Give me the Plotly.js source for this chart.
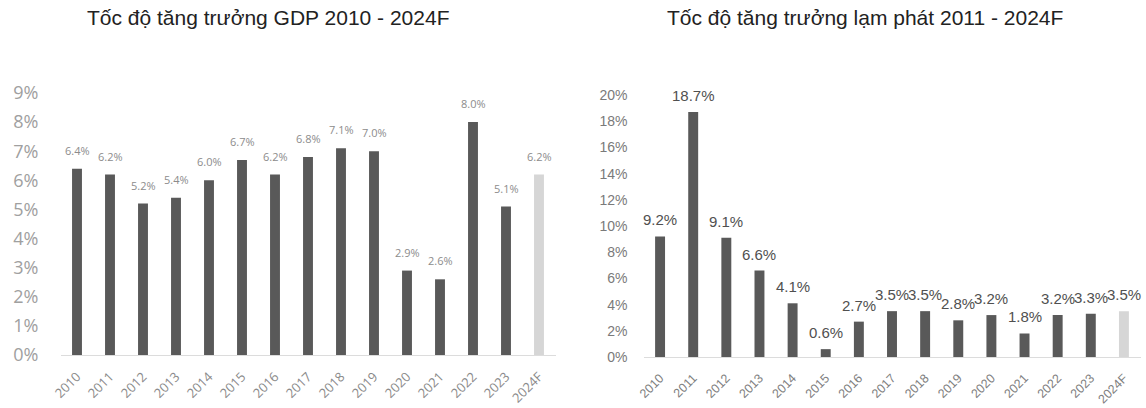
<!DOCTYPE html>
<html>
<head>
<meta charset="utf-8">
<script src="https://cdn.plot.ly/plotly-3.0.1.min.js"></script>
<style>html,body{margin:0;padding:0;background:#fff}#chart{width:1146px;height:408px}</style>
</head>
<body>
<div id="chart"></div>
<script>
const years = ['2010','2011','2012','2013','2014','2015','2016','2017','2018','2019','2020','2021','2022','2023','2024F'];
const gdpGrowth = [6.4, 6.2, 5.2, 5.4, 6.0, 6.7, 6.2, 6.8, 7.1, 7.0, 2.9, 2.6, 8.0, 5.1, 6.2];
const inflation = [9.2, 18.7, 9.1, 6.6, 4.1, 0.6, 2.7, 3.5, 3.5, 2.8, 3.2, 1.8, 3.2, 3.3, 3.5];
const gdpTitle = 'Tốc độ tăng trưởng GDP 2010 - 2024F';
const inflTitle = 'Tốc độ tăng trưởng lạm phát 2011 - 2024F';

const W = 1146, H = 408;
const dark = '#595959', light = '#d6d6d6';
const colorsFor = arr => arr.map((v, i) => i === arr.length - 1 ? light : dark);

const traces = [
  {
    type: 'bar', x: years, y: gdpGrowth, xaxis: 'x', yaxis: 'y',
    marker: {color: colorsFor(gdpGrowth)},
    hoverinfo: 'skip'
  },
  {
    type: 'bar', x: years, y: inflation, xaxis: 'x2', yaxis: 'y2',
    marker: {color: colorsFor(inflation)},
    hoverinfo: 'skip'
  }
];

// on a category axis an annotation x is the category's index
const labelsFor = (vals, xref, yref, font, shift) => vals.map((v, i) => ({
  x: i, y: v, xref: xref, yref: yref,
  text: v.toFixed(1) + '%', showarrow: false,
  xanchor: 'center', yanchor: 'bottom', yshift: shift,
  font: font
}));

const gdpFont = {family: 'Open Sans, sans-serif', size: 11, color: '#8c8c8c'};
const inflFont = {family: 'Liberation Sans, Arial, sans-serif', size: 15, color: '#505050'};
const titleFont = {family: 'Liberation Sans, Arial, sans-serif', size: 21, color: '#222'};

const layout = {
  width: W, height: H,
  margin: {l: 0, r: 0, t: 0, b: 0},
  paper_bgcolor: '#fff', plot_bgcolor: '#fff',
  showlegend: false,
  bargap: 0.7,
  xaxis: {
    type: 'category', tickmode: 'array', tickvals: years,
    range: [-0.5, years.length - 0.5],
    domain: [60.5 / W, 555.5 / W], anchor: 'y',
    tickangle: -45, showgrid: false, zeroline: false,
    showline: true, linecolor: '#dcdcdc', linewidth: 1,
    ticklabelstandoff: 8,
    tickfont: {family: 'Open Sans, sans-serif', size: 13, color: '#8a8a8a'},
    automargin: false, fixedrange: true
  },
  yaxis: {
    domain: [53 / H, 315 / H], anchor: 'x',
    range: [0, 9], dtick: 1, ticksuffix: '%',
    showgrid: false, zeroline: false, showline: false,
    tickfont: {family: 'Open Sans, sans-serif', size: 18, color: '#a0a0a0'},
    ticklabelstandoff: 21,
    automargin: false, fixedrange: true
  },
  xaxis2: {
    type: 'category', tickmode: 'array', tickvals: years,
    range: [-0.5, years.length - 0.5],
    domain: [643.5 / W, 1140.5 / W], anchor: 'y2',
    tickangle: -45, showgrid: false, zeroline: false,
    showline: true, linecolor: '#dcdcdc', linewidth: 1,
    ticklabelstandoff: 8,
    tickfont: {family: 'Liberation Sans, Arial, sans-serif', size: 12.5, color: '#808080'},
    automargin: false, fixedrange: true
  },
  yaxis2: {
    domain: [51 / H, 313 / H], anchor: 'x2',
    range: [0, 20], dtick: 2, ticksuffix: '%',
    showgrid: false, zeroline: false, showline: false,
    tickfont: {family: 'Liberation Sans, Arial, sans-serif', size: 14, color: '#7a7a7a'},
    ticklabelstandoff: 15,
    automargin: false, fixedrange: true
  },
  annotations: [
    {text: gdpTitle, xref: 'paper', yref: 'paper', x: 268 / W, y: (H - 18) / H,
     xanchor: 'center', yanchor: 'middle', showarrow: false, font: titleFont},
    {text: inflTitle, xref: 'paper', yref: 'paper', x: 865 / W, y: (H - 18) / H,
     xanchor: 'center', yanchor: 'middle', showarrow: false, font: titleFont}
  ].concat(labelsFor(gdpGrowth, 'x', 'y', gdpFont, 9))
   .concat(labelsFor(inflation, 'x2', 'y2', inflFont, 6))
};

Plotly.newPlot('chart', traces, layout, {staticPlot: true, displayModeBar: false});
</script>
</body>
</html>
